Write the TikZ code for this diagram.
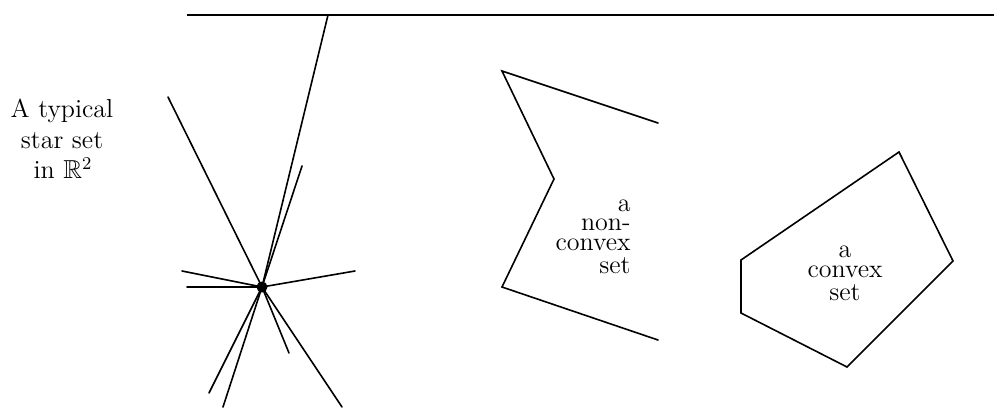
\documentclass[tikz,border=0pt]{standalone}
\usepackage{amssymb}
\begin{document}
\begin{tikzpicture}[x=0.5pt,y=-0.5pt,
  ln/.style={line width=0.8pt,line cap=round,line join=miter},
  lbl/.style={inner sep=0pt,font=\fontsize{13}{12}\selectfont},
  lblc/.style={lbl,anchor=base},
  lblr/.style={lbl,anchor=base east},
  dot/.style={circle,fill=black,inner sep=0pt,minimum size=5.5pt}]
\useasboundingbox (0,0) rectangle (996,418);
% top line
\coordinate (tl) at (187,15);
\coordinate (tr) at (994,15);
\draw[line width=1pt] (tl) -- (tr);
% star set
\node[dot] (c) at (262,287) {};
\coordinate (s1) at (328,15);
\coordinate (s2) at (168,97);
\coordinate (s3) at (302,166);
\coordinate (s4) at (182,271);
\coordinate (s5) at (187,287);
\coordinate (s6) at (355,271);
\coordinate (s7) at (209,393);
\coordinate (s8) at (223,407);
\coordinate (s9) at (289,353);
\coordinate (s10) at (342,407);
\foreach \e in {s1,s2,s3,s4,s5,s6,s7,s8,s9,s10}
  \draw[ln] (c.center) -- (\e);
% label of star set
\node[lblc] (t1) at (62,117) {A typical};
\node[lblc] (t2) at (62,148) {star set};
\node[lblc] (t3) at (63,178) {in $\mathbb{R}^2$};
% non-convex set
\coordinate (n1) at (658,123);
\coordinate (n2) at (502,71);
\coordinate (n3) at (554,179);
\coordinate (n4) at (502,287);
\coordinate (n5) at (658,340);
\draw[ln] (n1) -- (n2) -- (n3) -- (n4) -- (n5);
\node[lblr] (u1) at (631,211.5) {a};
\node[lblr] (u2) at (631,230.5) {non-};
\node[lblr] (u3) at (631,250) {convex};
\node[lblr] (u4) at (631,273) {set};
% convex set
\coordinate (v1) at (741,260);
\coordinate (v2) at (741,313);
\coordinate (v3) at (847,367);
\coordinate (v4) at (953,261);
\coordinate (v5) at (899,152);
\draw[ln] (v1) -- (v2) -- (v3) -- (v4) -- (v5) -- cycle;
\node[lblc] (w1) at (845,257) {a};
\node[lblc] (w2) at (845,277) {convex};
\node[lblc] (w3) at (845,300) {set};
\end{tikzpicture}
\end{document}
